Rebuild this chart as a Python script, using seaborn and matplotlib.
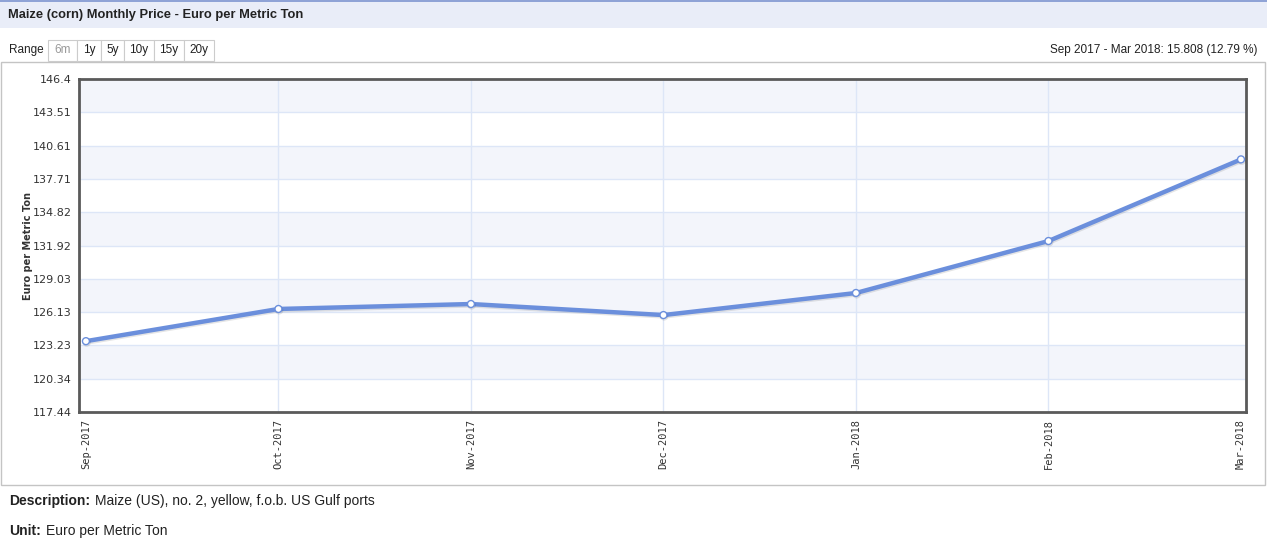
import matplotlib
matplotlib.use("Agg")
import matplotlib.pyplot as plt
import matplotlib.patheffects as pe
from matplotlib.patches import Rectangle
import seaborn as sns
import numpy as np
import pandas as pd

# data
months = ["Sep-2017", "Oct-2017", "Nov-2017", "Dec-2017", "Jan-2018", "Feb-2018", "Mar-2018"]
prices = [123.600, 126.40, 126.83, 125.87, 127.79, 132.31, 139.408]
y_ticks = [117.44, 120.34, 123.23, 126.13, 129.03, 131.92, 134.82, 137.71, 140.61, 143.51, 146.4]
range_buttons = ["6m", "1y", "5y", "10y", "15y", "20y"]

df = pd.DataFrame({"idx": np.arange(len(months)), "price": prices})

sns.set_style("white")
plt.rcParams['font.family'] = ['DejaVu Sans']

W, H = 1267, 546
fig = plt.figure(figsize=(W / 100, H / 100), dpi=100)


def fx(px):
    return px / W


def fy(py):
    return 1 - py / H


# header band
fig.patches.append(Rectangle((0, fy(28)), 1, 28 / H, transform=fig.transFigure,
                             facecolor="#e9edf8", edgecolor="none", zorder=0))
fig.patches.append(Rectangle((0, fy(2)), 1, 2 / H, transform=fig.transFigure,
                             facecolor="#8fa3d6", edgecolor="none", zorder=0))
fig.text(fx(8), fy(15), "Maize (corn) Monthly Price - Euro per Metric Ton",
         fontsize=9.3, fontweight="bold", color="#222222", va="center", family="Liberation Sans")

# outer chart frame
fig.patches.append(Rectangle((fx(1), fy(485)), 1264 / W, (485 - 62) / H,
                             transform=fig.transFigure, facecolor="none",
                             edgecolor="#c4c4c4", linewidth=1, zorder=0))

# range selector
fig.text(fx(9), fy(50), "Range", fontsize=8.5, color="#222222", va="center",
         family="Liberation Sans")
btn_edges = [48, 77, 101, 124, 154, 184, 214]
for i, lab in enumerate(range_buttons):
    x0, x1 = btn_edges[i], btn_edges[i + 1]
    fig.patches.append(Rectangle((fx(x0), fy(61)), (x1 - x0) / W, 21 / H,
                                 transform=fig.transFigure, facecolor="white",
                                 edgecolor="#cccccc", linewidth=0.8, zorder=1))
    fig.text(fx((x0 + x1) / 2), fy(50), lab, fontsize=8.5, ha="center", va="center",
             color="#999999" if lab == "6m" else "#222222", family="Liberation Sans", zorder=2)

change = prices[-1] - prices[0]
pct = change / prices[0] * 100
fig.text(fx(1257), fy(50), "Sep 2017 - Mar 2018: %.3f (%.2f %%)" % (change, pct),
         fontsize=8.5, ha="right", va="center", color="#222222", family="Liberation Sans")

# plot area
ax = fig.add_axes([fx(79), fy(412), (1246 - 79) / W, (412 - 79) / H])

# alternating bands + grid
for k in range(len(y_ticks) - 1):
    if k % 2 == 1:
        ax.axhspan(y_ticks[k], y_ticks[k + 1], color="#f3f5fb", zorder=0, linewidth=0)
for yv in y_ticks[1:-1]:
    ax.axhline(yv, color="#dde6f7", linewidth=1, zorder=1)
for xv in df["idx"][1:-1]:
    ax.axvline(xv, color="#dde6f7", linewidth=1, zorder=1)

sns.lineplot(data=df, x="idx", y="price", ax=ax, color="#6b8fdc", linewidth=3.2,
             marker="o", markersize=5, markerfacecolor="white", markeredgecolor="#6b8fdc",
             markeredgewidth=1, zorder=3,
             path_effects=[pe.SimpleLineShadow(offset=(0.5, -1), alpha=0.1), pe.Normal()])

ax.set_xlim(-0.036, 6.026)
ax.set_ylim(y_ticks[0], y_ticks[-1])
ax.set_yticks(y_ticks)
ax.set_yticklabels([("%g" % v) for v in y_ticks], fontsize=8, color="#333333")
ax.set_xticks(df["idx"])
ax.set_xticklabels(months, rotation=90, fontsize=7.5, color="#333333", family="DejaVu Sans Mono")
ax.tick_params(axis="both", length=0, pad=5)
ax.set_xlabel("")
ax.set_ylabel("Euro per Metric Ton", fontsize=7, fontweight="bold", color="#333333")
ax.yaxis.set_label_coords((33 - 79) / (1246 - 79), 0.5)
for s in ax.spines.values():
    s.set_color("#5a5a5a")
    s.set_linewidth(2)

# description under chart
fig.text(fx(9), fy(501), "Description:", fontsize=10, fontweight="bold", va="center",
         color="#222222", family="Liberation Sans")
fig.text(fx(95), fy(501), "Maize (US), no. 2, yellow, f.o.b. US Gulf ports",
         fontsize=10, va="center", color="#222222", family="Liberation Sans")
fig.text(fx(9), fy(531), "Unit:", fontsize=10, fontweight="bold", va="center",
         color="#222222", family="Liberation Sans")
fig.text(fx(46), fy(531), "Euro per Metric Ton",
         fontsize=10, va="center", color="#222222", family="Liberation Sans")

plt.savefig("out.png", dpi=100)
